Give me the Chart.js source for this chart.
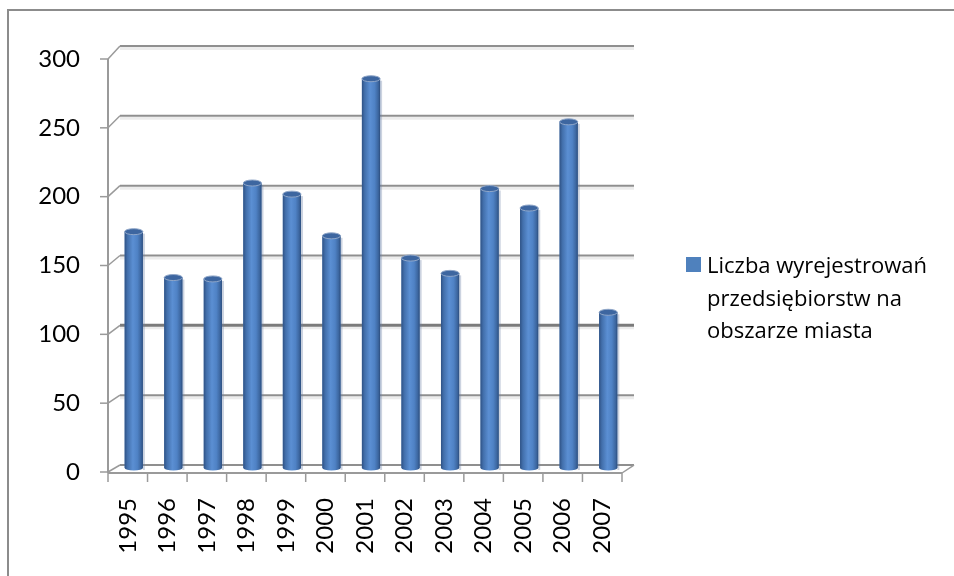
<!DOCTYPE html>
<html>
<head>
<meta charset="utf-8">
<script src="https://cdn.jsdelivr.net/npm/chart.js@4"></script>
<style>
  html, body { margin: 0; padding: 0; background: #ffffff; }
  #wrap { width: 954px; height: 576px; position: relative; }
</style>
</head>
<body>
<div id="wrap"><canvas id="c" width="954" height="576"></canvas></div>
<script>
// Years on the category axis
const years = ['1995', '1996', '1997', '1998', '1999', '2000', '2001',
               '2002', '2003', '2004', '2005', '2006', '2007'];
// Number of businesses deregistered in the city, per year
const closures = [170, 137, 136, 205, 197, 167, 280, 151, 140, 201, 187, 249, 112];
// Value-axis ticks
const yTicks = [0, 50, 100, 150, 200, 250, 300];
const seriesLabel = 'Liczba wyrejestrowań przedsiębiorstw na obszarze miasta';
const seriesColor = '#4f81bd';

const FONT = 'Lato, "Open Sans", sans-serif';
const LEGEND_FONT = '"Open Sans", Lato, sans-serif';
const DEPTH = 6; // half of the horizontal depth shift of the 3D box

// White page plus the thin frame around the chart
const framePlugin = {
  id: 'outerFrame',
  beforeDraw(chart) {
    const ctx = chart.ctx;
    ctx.save();
    ctx.fillStyle = '#ffffff';
    ctx.fillRect(0, 0, chart.width, chart.height);
    ctx.strokeStyle = '#8c8c8c';
    ctx.lineWidth = 2;
    ctx.beginPath();
    ctx.moveTo(8, chart.height);
    ctx.lineTo(8, 10);
    ctx.lineTo(chart.width, 10);
    ctx.stroke();
    ctx.restore();
  }
};

// Back wall gridlines, floor and front axis of the 3D box
const boxPlugin = {
  id: 'box3d',
  beforeDatasetsDraw(chart) {
    const ctx = chart.ctx;
    const area = chart.chartArea;
    const yF = chart.scales.y;
    const yW = chart.scales.yWall;
    const L = area.left, R = area.right;
    const fL = L - DEPTH, fR = R - DEPTH, bL = L + DEPTH, bR = R + DEPTH;
    const line = (x1, y1, x2, y2, color, width) => {
      ctx.strokeStyle = color;
      ctx.lineWidth = width;
      ctx.beginPath();
      ctx.moveTo(x1, y1);
      ctx.lineTo(x2, y2);
      ctx.stroke();
    };
    ctx.save();
    yTicks.forEach(v => {
      const yw = yW.getPixelForValue(v);
      const yf = yF.getPixelForValue(v);
      if (v !== 0) line(bL, yw + 2.5, bR, yw + 2.5, '#ececec', 3);
      const strong = v === 100;
      line(bL, yw, bR, yw, strong ? '#7b7b7b' : '#8f8f8f', strong ? 3 : 2);
      line(fL, yf, bL, yw, '#9a9a9a', 1.5);
      line(fL - 8, yf, fL, yf, '#9a9a9a', 1.5);
    });
    const y0f = yF.getPixelForValue(0) + 1;
    const y0w = yW.getPixelForValue(0);
    line(fL, yF.getPixelForValue(300), fL, y0f, '#9a9a9a', 2);
    line(fL, y0f, fR, y0f, '#9a9a9a', 2);
    line(fR, y0f, bR, y0w, '#9a9a9a', 1.5);
    const n = years.length;
    const step = (fR - fL) / n;
    for (let i = 0; i <= n; i++) {
      const x = fL + i * step;
      line(x, y0f, x, y0f + 9, '#9a9a9a', 1.5);
    }
    ctx.restore();
  }
};

// Cylinder shading over each bar
const cylinderPlugin = {
  id: 'cylinders',
  afterDatasetsDraw(chart) {
    const ctx = chart.ctx;
    const meta = chart.getDatasetMeta(0);
    ctx.save();
    meta.data.forEach(el => {
      const w = el.width, cx = el.x;
      const x0 = cx - w / 2, x1 = cx + w / 2;
      const top = el.y, base = el.base;
      // soft halo on the right side
      ctx.fillStyle = 'rgba(110,130,165,0.35)';
      ctx.fillRect(x1, top + 2, 2, base - top);
      const g = ctx.createLinearGradient(x0, 0, x1, 0);
      g.addColorStop(0, '#2f5285');
      g.addColorStop(0.15, '#426fab');
      g.addColorStop(0.45, '#5b8fd3');
      g.addColorStop(0.7, '#4f82c5');
      g.addColorStop(0.9, '#3c669f');
      g.addColorStop(1, '#2c4d7d');
      ctx.fillStyle = g;
      ctx.beginPath();
      ctx.moveTo(x0, top);
      ctx.lineTo(x0, base);
      ctx.ellipse(cx, base, w / 2, 2.5, 0, Math.PI, 0, true);
      ctx.lineTo(x1, top);
      ctx.closePath();
      ctx.fill();
      // top face
      ctx.fillStyle = '#3d66a0';
      ctx.strokeStyle = '#8fa6c8';
      ctx.lineWidth = 1;
      ctx.beginPath();
      ctx.ellipse(cx, top, w / 2, 3, 0, 0, Math.PI * 2);
      ctx.fill();
      ctx.stroke();
    });
    ctx.restore();
  }
};

// Legend to the right, wrapped over several lines
const sideLegendPlugin = {
  id: 'sideLegend',
  afterDraw(chart) {
    const ctx = chart.ctx;
    const ds = chart.data.datasets[0];
    ctx.save();
    ctx.font = '22px ' + LEGEND_FONT;
    ctx.fillStyle = '#000000';
    ctx.textBaseline = 'alphabetic';
    const maxW = 240;
    const words = ds.label.split(' ');
    const lines = [];
    let cur = '';
    words.forEach(wd => {
      const t = cur ? cur + ' ' + wd : wd;
      if (ctx.measureText(t).width > maxW && cur) { lines.push(cur); cur = wd; }
      else cur = t;
    });
    if (cur) lines.push(cur);
    const x = 707, y = 273, lh = 32.5;
    ctx.fillStyle = ds.backgroundColor;
    ctx.fillRect(686, 257, 15, 15);
    ctx.fillStyle = '#000000';
    lines.forEach((t, i) => ctx.fillText(t, x, y + i * lh));
    ctx.restore();
  }
};

new Chart(document.getElementById('c'), {
  type: 'bar',
  data: {
    labels: years,
    datasets: [{
      label: seriesLabel,
      data: closures,
      backgroundColor: seriesColor,
      borderWidth: 0,
      xAxisID: 'x',
      yAxisID: 'yBar',
      categoryPercentage: 1,
      barPercentage: 0.46
    }]
  },
  options: {
    responsive: false,
    animation: false,
    devicePixelRatio: 1,
    layout: { padding: { top: 59, left: 0, right: 326, bottom: 0 } },
    plugins: {
      legend: { display: false },
      tooltip: { enabled: false },
      title: { display: false }
    },
    scales: {
      x: {
        type: 'category',
        position: 'bottom',
        grid: { display: false, drawTicks: false },
        border: { display: false },
        ticks: {
          color: '#000000',
          font: { family: FONT, size: 24 },
          minRotation: 90,
          maxRotation: 90,
          autoSkip: false,
          padding: 26,
          labelOffset: -DEPTH
        },
        afterFit(s) { s.height = 104; }
      },
      y: {
        position: 'left',
        min: 0,
        max: 300,
        grid: { display: false, drawTicks: false },
        border: { display: false },
        ticks: {
          stepSize: 50,
          color: '#000000',
          font: { family: FONT, size: 24 },
          padding: 34
        },
        afterFit(s) { s.width = 114; }
      },
      yBar: { display: false, min: -2.88, max: 294.2 },
      yWall: { display: false, min: -5.01, max: 290.7 }
    }
  },
  plugins: [framePlugin, boxPlugin, cylinderPlugin, sideLegendPlugin]
});
</script>
</body>
</html>
